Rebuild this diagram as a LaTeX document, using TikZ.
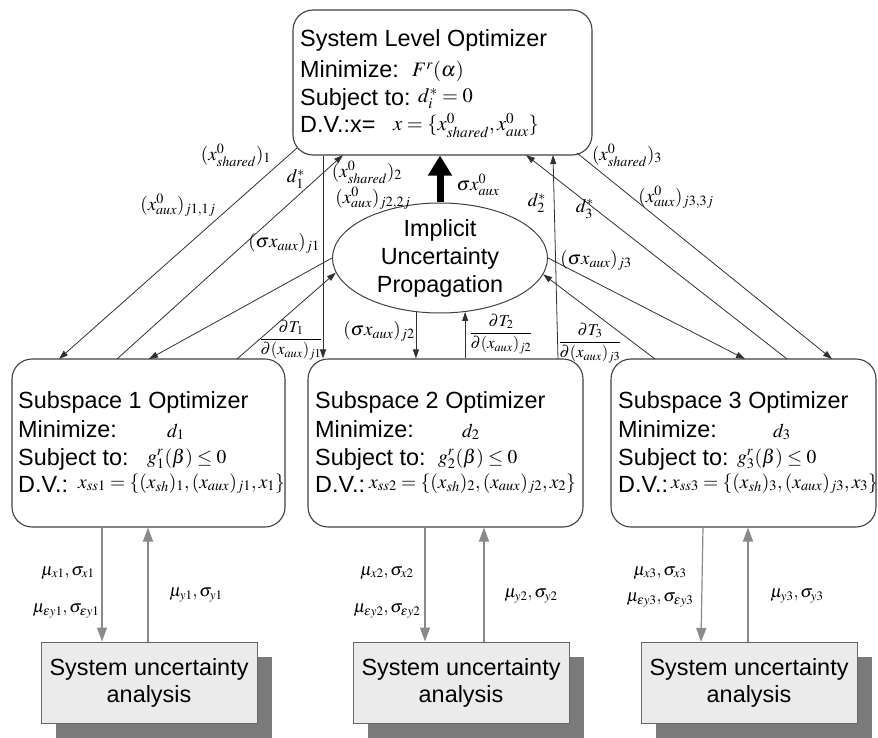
\documentclass[tikz,border=0pt]{standalone}
\usepackage{mathptmx}
\usepackage[no-math]{fontspec}
\setmainfont{Liberation Sans}
\usetikzlibrary{arrows.meta,shapes.geometric,shadows}
\definecolor{linec}{HTML}{303030}
\definecolor{boxc}{HTML}{404040}
\definecolor{gline}{HTML}{8A8A8A}
\definecolor{boxfill}{HTML}{EBEBEB}
\definecolor{shgray}{HTML}{7A7A7A}
\begin{document}
\begin{tikzpicture}[x=1pt,y=-1pt,
  rbox/.style={draw=boxc, line width=1.1pt, rounded corners=20pt, fill=white, inner sep=0pt},
  sbox/.style={draw=boxc!80, line width=1pt, fill=boxfill, inner sep=0pt, align=center,
     font=\fontsize{23.4}{27}\selectfont,
     drop shadow={shadow xshift=15pt, shadow yshift=-15pt, fill=shgray, opacity=1}},
  txt/.style={anchor=base west, inner sep=0pt, font=\fontsize{23.4}{28}\selectfont},
  mth/.style={anchor=base west, inner sep=0pt, font=\fontsize{19.5}{21}\selectfont},
  tmth/.style={anchor=base west, inner sep=0pt, font=\fontsize{20.5}{22}\selectfont},
  lbl/.style={inner sep=0pt, font=\fontsize{19}{21}\selectfont},
  flbl/.style={inner sep=0pt, font=\fontsize{16.5}{18}\selectfont},
  blbl/.style={inner sep=0pt, font=\fontsize{17.5}{19}\selectfont},
  arr/.style={draw=linec, line width=0.8pt, -{Triangle[length=9pt,width=6pt]}},
  garr/.style={draw=gline, line width=1.2pt, -{Triangle[length=14pt,width=10pt]}},
  bigarr/.style={draw=black, line width=7pt, -{Triangle[length=20pt,width=23pt]}}]
\useasboundingbox (0,0) rectangle (878,738);

% ---------- main boxes ----------
\node[rbox, minimum width=299pt, minimum height=145pt] (sys) at (442.5,82.5) {};
\node[rbox, minimum width=273pt, minimum height=168pt] (b1) at (148.5,443) {};
\node[rbox, minimum width=275pt, minimum height=168pt] (b2) at (445.5,443) {};
\node[rbox, minimum width=265pt, minimum height=168pt] (b3) at (743.5,443) {};
\node[ellipse, draw=boxc, line width=1pt, minimum width=215pt, minimum height=110pt, inner sep=0pt] (iup) at (440,258) {};
\node[inner sep=0pt, align=center, font=\fontsize{23.4}{28}\selectfont] (iupt) at (440,258) {Implicit\\Uncertainty\\Propagation};

\node[sbox, minimum width=216pt, minimum height=81pt] (sa1) at (149,682.5) {System uncertainty\\analysis};
\node[sbox, minimum width=216pt, minimum height=81pt] (sa2) at (461,682.5) {System uncertainty\\analysis};
\node[sbox, minimum width=216pt, minimum height=81pt] (sa3) at (749,682.5) {System uncertainty\\analysis};

% ---------- top box text ----------
\node[txt] (st1) at (300,47) {System Level Optimizer};
\node[txt] (st2) at (300,78) {Minimize:};
\node[txt] (st3) at (300,106) {Subject to:};
\node[txt] (st4) at (300,133) {D.V.:x=};
\node[tmth] (sm2) at (412,77) {$F^r(\alpha)$};
\node[tmth] (sm3) at (418,103) {$d_i^*=0$};
\node[tmth] (sm4) at (393,131) {$x=\{x^0_{shared},x^0_{aux}\}$};

% ---------- subspace texts ----------
\node[txt] (b1t1) at (18,408) {Subspace 1 Optimizer};
\node[txt] (b1t2) at (18,437) {Minimize:};
\node[txt] (b1t3) at (18,465) {Subject to:};
\node[txt] (b1t4) at (18,492) {D.V.:};
\node[mth] (b1m2) at (167,437) {$d_1$};
\node[mth] (b1m3) at (147,463) {$g_1^r(\beta)\le 0$};
\node[mth] (b1m4) at (78,488) {$x_{ss1}=\{(x_{sh})_1,(x_{aux})_{j1},x_1\}$};

\node[txt] (b2t1) at (315,408) {Subspace 2 Optimizer};
\node[txt] (b2t2) at (315,437) {Minimize:};
\node[txt] (b2t3) at (315,465) {Subject to:};
\node[txt] (b2t4) at (315,492) {D.V.:};
\node[mth] (b2m2) at (462,437) {$d_2$};
\node[mth] (b2m3) at (438,463) {$g_2^r(\beta)\le 0$};
\node[mth] (b2m4) at (369,488) {$x_{ss2}=\{(x_{sh})_2,(x_{aux})_{j2},x_2\}$};

\node[txt] (b3t1) at (618,408) {Subspace 3 Optimizer};
\node[txt] (b3t2) at (618,437) {Minimize:};
\node[txt] (b3t3) at (618,465) {Subject to:};
\node[txt] (b3t4) at (618,492) {D.V.:};
\node[mth] (b3m2) at (773,437) {$d_3$};
\node[mth] (b3m3) at (737,463) {$g_3^r(\beta)\le 0$};
\node[mth] (b3m4) at (671,488) {$x_{ss3}=\{(x_{sh})_3,(x_{aux})_{j3},x_3\}$};

% ---------- connector anchor coordinates ----------
\coordinate (c1a) at (297,148);
\coordinate (c1b) at (59,359);
\coordinate (c2a) at (117,359);
\coordinate (c2b) at (343,155);
\coordinate (c3b) at (149,359);
\coordinate (c4a) at (237,359);
\coordinate (c5x) at (323,0);
\coordinate (c8a) at (558,359);
\coordinate (c8b) at (553,155);
\coordinate (c9a) at (655,359);
\coordinate (c10b) at (745,359);
\coordinate (c11a) at (787,359);
\coordinate (c11b) at (526,155);
\coordinate (c12a) at (577,153);
\coordinate (c12b) at (832,359);

% ---------- upper connectors ----------
\draw[arr] (c1a) -- (c1b);
\draw[arr] (c2a) -- (c2b);
\draw[arr] (iup.180) -- (c3b);
\draw[arr] (c4a) -- (iup.188);
\draw[arr] (c5x |- sys.south) -- (c5x |- b2.north);
\draw[arr] (iup.246.8) -- (iup.246.8 |- b2.north);
\draw[arr] (iup.295.1 |- b2.north) -- (iup.295.1);
\draw[arr] (c8a) -- (c8b);
\draw[arr] (c9a) -- (iup.351);
\draw[arr] (iup.0) -- (c10b);
\draw[arr] (c11a) -- (c11b);
\draw[arr] (c12a) -- (c12b);
\draw[bigarr] (iup.north) -- (iup.north |- sys.south);

% ---------- upper labels ----------
\node[lbl] (l1) at (236,155) {$(x^0_{shared})_1$};
\node[lbl] (l2) at (178,205) {$(x^0_{aux})_{j1,1j}$};
\node[lbl] (l3) at (296,179) {$d_1^*$};
\node[lbl] (l4) at (284,243) {$(\sigma x_{aux})_{j1}$};
\node[flbl] (l5) at (291,340) {$\displaystyle\frac{\partial T_1}{\partial (x_{aux})_{j1}}$};
\node[lbl] (l6) at (367,172) {$(x^0_{shared})_2$};
\node[lbl] (l7) at (373,198) {$(x^0_{aux})_{j2,2j}$};
\node[lbl] (l8) at (478,185) {$\sigma x^0_{aux}$};
\node[lbl] (l9) at (379,331) {$(\sigma x_{aux})_{j2}$};
\node[flbl] (l10) at (501,334) {$\displaystyle\frac{\partial T_2}{\partial (x_{aux})_{j2}}$};
\node[lbl] (l11) at (537,203) {$d_2^*$};
\node[lbl] (l12) at (585,209) {$d_3^*$};
\node[lbl] (l13) at (596,260) {$(\sigma x_{aux})_{j3}$};
\node[flbl] (l14) at (590,343) {$\displaystyle\frac{\partial T_3}{\partial (x_{aux})_{j3}}$};
\node[lbl] (l15) at (627,155) {$(x^0_{shared})_3$};
\node[lbl] (l16) at (676,197) {$(x^0_{aux})_{j3,3j}$};

% ---------- lower connectors ----------
\coordinate (d1x) at (102,0);
\coordinate (u1x) at (148,0);
\coordinate (d2x) at (425,0);
\coordinate (u2x) at (484,0);
\coordinate (d3a) at (703,527);
\coordinate (d3b) at (701,642);
\coordinate (u3x) at (748,0);
\draw[garr] (d1x |- b1.south) -- (d1x |- sa1.north);
\draw[garr] (u1x |- sa1.north) -- (u1x |- b1.south);
\draw[garr] (d2x |- b2.south) -- (d2x |- sa2.north);
\draw[garr] (u2x |- sa2.north) -- (u2x |- b2.south);
\draw[garr] (d3a) -- (d3b);
\draw[garr] (u3x |- sa3.north) -- (u3x |- b3.south);

% ---------- lower labels ----------
\node[blbl] (m1a) at (68,573) {$\mu_{x1},\sigma_{x1}$};
\node[blbl] (m1b) at (66,611) {$\mu_{\varepsilon y1},\sigma_{\varepsilon y1}$};
\node[blbl] (m1c) at (196,595) {$\mu_{y1},\sigma_{y1}$};
\node[blbl] (m2a) at (387,573) {$\mu_{x2},\sigma_{x2}$};
\node[blbl] (m2b) at (387,611) {$\mu_{\varepsilon y2},\sigma_{\varepsilon y2}$};
\node[blbl] (m2c) at (531,596) {$\mu_{y2},\sigma_{y2}$};
\node[blbl] (m3a) at (660,573) {$\mu_{x3},\sigma_{x3}$};
\node[blbl] (m3b) at (660,600) {$\mu_{\varepsilon y3},\sigma_{\varepsilon y3}$};
\node[blbl] (m3c) at (797,596) {$\mu_{y3},\sigma_{y3}$};
\end{tikzpicture}
\end{document}
